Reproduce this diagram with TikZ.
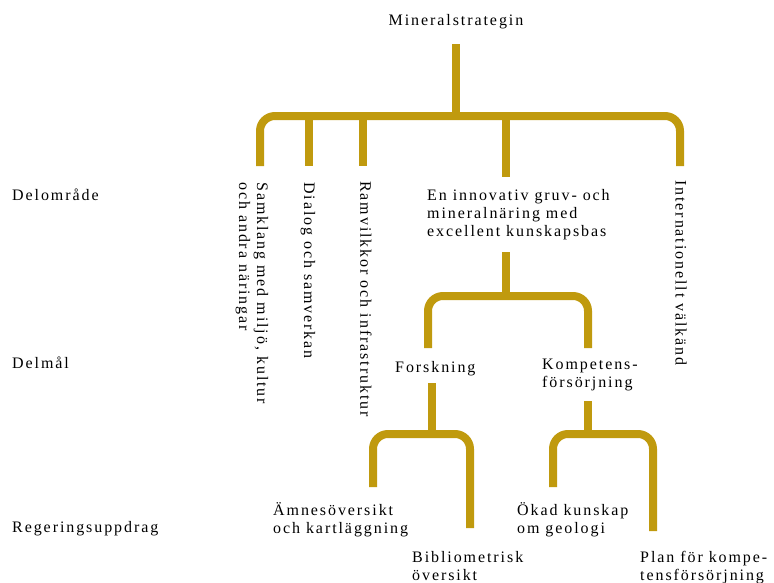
\documentclass[tikz,border=0pt]{standalone}
\usepackage{fontspec}
\setmainfont{Liberation Serif}[LetterSpace=12]
\definecolor{guld}{RGB}{192,154,14}

\begin{document}
\begin{tikzpicture}[x=1pt, y=-1pt, font=\fontsize{16}{18}\selectfont,
    gren/.style={draw=guld, line width=8pt, rounded corners=15pt},
    txt/.style={anchor=base west, align=left, inner sep=0pt},
    vtxt/.style={rotate=-90, anchor=west, align=left, inner sep=0pt}]
    \useasboundingbox (0,0) rectangle (774,582);

    % nivåer
    \node[txt] (omr) at (12,200) {Delområde};
    \node[txt] (mal) at (12,368) {Delmål};
    \node[txt] (upp) at (12,532) {Regeringsuppdrag};

    % rot och delområden (flerradiga noder: baslinjen är sista raden)
    \node[anchor=base, inner sep=0pt] (rot) at (456,25) {Mineralstrategin};
    \node[vtxt] (samklang) at (252,182) {Samklang med miljö, kultur\\och andra näringar};
    \node[vtxt] (dialog) at (308,182) {Dialog och samverkan};
    \node[vtxt] (ram) at (366,181) {Ramvilkkor och infrastruktur};
    \node[txt] (innov) at (427,236) {En innovativ gruv- och\\mineralnäring med\\excellent kunskapsbas};
    \node[vtxt] (inter) at (681,180) {Internationellt välkänd};

    % delmål
    \node[txt] (forsk) at (395,372) {Forskning};
    \node[txt] (komp) at (542,387) {Kompetens-\\försörjning};

    % regeringsuppdrag
    \node[txt] (amne) at (273,533) {Ämnesöversikt\\och kartläggning};
    \node[txt] (biblio) at (412,580) {Bibliometrisk\\översikt};
    \node[txt] (okad) at (517,533) {Ökad kunskap\\om geologi};
    \node[txt] (plan) at (640,580) {Plan för kompe-\\tensförsörjning};

    % grenar, nivå 1
    \coordinate (s0) at (456,44);
    \coordinate (j0) at (456,116);
    \coordinate (d1) at (260,166);
    \coordinate (d2) at (309,166);
    \coordinate (d3) at (363,166);
    \coordinate (d4) at (506,177);
    \coordinate (d5) at (680,166);
    \draw[gren] (s0) -- (j0);
    \draw[gren] (d1) |- (j0) -| (d5);
    \draw[gren] (d2 |- j0) -- (d2);
    \draw[gren] (d3 |- j0) -- (d3);
    \draw[gren] (d4 |- j0) -- (d4);

    % grenar, nivå 2
    \coordinate (s1) at (506,252);
    \coordinate (j1) at (506,296);
    \coordinate (e1) at (428,348);
    \coordinate (e2) at (588,348);
    \draw[gren] (s1) -- (j1);
    \draw[gren] (e1) |- (j1) -| (e2);

    % grenar, nivå 3
    \coordinate (s2) at (432,383);
    \coordinate (j2) at (432,434);
    \coordinate (f1) at (373,487);
    \coordinate (f2) at (470,528);
    \draw[gren] (s2) -- (j2);
    \draw[gren] (f1) |- (j2) -| (f2);

    \coordinate (s3) at (588,401);
    \coordinate (j3) at (588,434);
    \coordinate (g1) at (553,487);
    \coordinate (g2) at (653,531);
    \draw[gren] (s3) -- (j3);
    \draw[gren] (g1) |- (j3) -| (g2);
\end{tikzpicture}
\end{document}
